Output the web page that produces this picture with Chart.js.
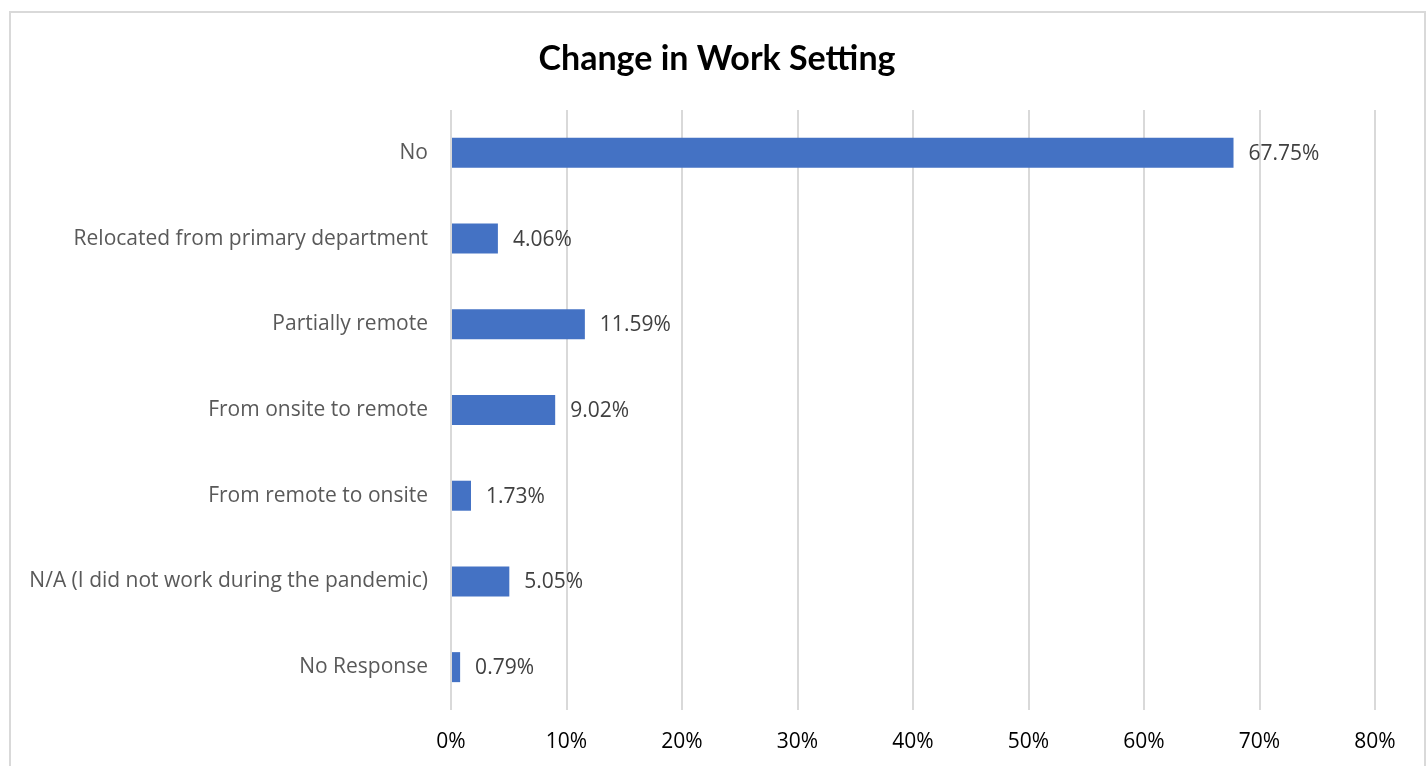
<!DOCTYPE html>
<html>
<head>
<meta charset="utf-8">
<script src="https://cdn.jsdelivr.net/npm/chart.js@4.4.1/dist/chart.umd.min.js"></script>
<style>
  html, body { margin: 0; padding: 0; background: #ffffff; }
  #wrap { width: 1428px; height: 766px; position: relative; }
</style>
</head>
<body>
<div id="wrap"><canvas id="c" width="1428" height="766"></canvas></div>
<script>
const categories = [
  'No',
  'Relocated from primary department',
  'Partially remote',
  'From onsite to remote',
  'From remote to onsite',
  'N/A (I did not work during the pandemic)',
  'No Response'
];
const shares = [67.75, 4.06, 11.59, 9.02, 1.73, 5.05, 0.79];
const tickValues = [0, 10, 20, 30, 40, 50, 60, 70, 80];
const chartTitle = 'Change in Work Setting';

// Outer frame and title, drawn behind the bars
const frame = {
  id: 'frame',
  beforeDraw(chart) {
    const ctx = chart.ctx;
    ctx.save();
    ctx.fillStyle = '#ffffff';
    ctx.fillRect(0, 0, chart.width, chart.height);
    ctx.strokeStyle = '#d9d9d9';
    ctx.lineWidth = 2;
    ctx.strokeRect(10, 12, 1415, 800);
    ctx.fillStyle = '#000000';
    ctx.font = 'bold 34px Lato';
    ctx.textAlign = 'center';
    ctx.textBaseline = 'middle';
    ctx.fillText(chartTitle, 717, 59);
    ctx.restore();
  }
};

// Value labels at the end of each bar
const valueLabels = {
  id: 'valueLabels',
  afterDatasetsDraw(chart) {
    const ctx = chart.ctx;
    const meta = chart.getDatasetMeta(0);
    ctx.save();
    ctx.fillStyle = '#404040';
    ctx.font = '21px "Open Sans"';
    ctx.textAlign = 'left';
    ctx.textBaseline = 'middle';
    meta.data.forEach((bar, i) => {
      ctx.fillText(shares[i].toFixed(2) + '%', bar.x + 15, bar.y + 1);
    });
    ctx.restore();
  }
};

new Chart(document.getElementById('c'), {
  type: 'bar',
  data: {
    labels: categories,
    datasets: [{
      data: shares,
      backgroundColor: '#4472c4',
      borderWidth: 0,
      categoryPercentage: 0.7,
      barPercentage: 0.5
    }]
  },
  options: {
    indexAxis: 'y',
    responsive: false,
    animation: false,
    layout: { padding: { top: 110, right: 53, left: 0, bottom: 0 } },
    plugins: {
      legend: { display: false },
      title: { display: false },
      tooltip: { enabled: false }
    },
    scales: {
      x: {
        min: 0,
        max: 80,
        afterBuildTicks(scale) {
          scale.ticks = tickValues.map(v => ({ value: v }));
        },
        afterFit(scale) { scale.height = 56; },
        grid: { color: '#d9d9d9', lineWidth: 2, drawTicks: false },
        border: { display: false },
        ticks: {
          padding: 19,
          color: '#000000',
          font: { family: 'Open Sans', size: 21 },
          callback: v => v + '%'
        }
      },
      y: {
        afterFit(scale) { scale.width = 451; },
        grid: { display: false, drawTicks: false },
        border: { display: false },
        ticks: {
          padding: 23,
          color: '#595959',
          font: { family: 'Open Sans', size: 21 }
        }
      }
    }
  },
  plugins: [frame, valueLabels]
});
</script>
</body>
</html>
